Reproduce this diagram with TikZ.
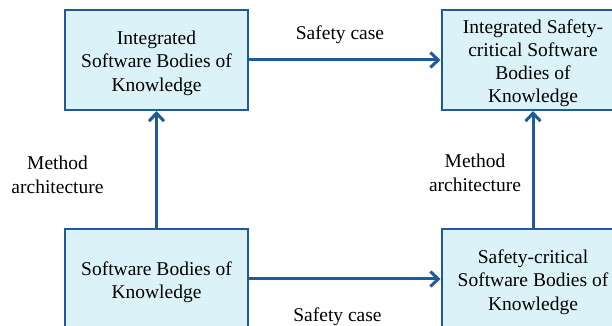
\documentclass[tikz,border=0pt]{standalone}
\usepackage{fontspec}
\setmainfont{Liberation Serif}
\usetikzlibrary{arrows.meta}
\definecolor{bokblue}{HTML}{1F5A9A}
\definecolor{bokfill}{HTML}{DBF3F8}
\newcommand{\bokstrut}{\rule{0pt}{20pt}}

\begin{document}
\begin{tikzpicture}[x=1pt,y=1pt,
  bok/.style={draw=bokblue, line width=2pt, fill=bokfill, minimum width=183pt, minimum height=100pt, inner sep=0pt, align=center, font=\fontsize{19.5}{23.2}\selectfont},
  flow/.style={draw=bokblue, line width=3pt, -{Straight Barb[length=8pt,width=15pt]}},
  lbl/.style={align=center, font=\fontsize{19.5}{23.5}\selectfont}]
\useasboundingbox (0,0) rectangle (612,326);
\clip (0,0) rectangle (612,326);
\node[bok] (isbok) at (156.5,266) {\bokstrut Integrated\\Software Bodies of\\Knowledge};
\node[bok] (iscsbok) at (533,266) {\bokstrut Integrated Safety-\\critical Software\\Bodies of\\Knowledge};
\node[bok] (sbok) at (156.5,47) {\bokstrut Software Bodies of\\Knowledge};
\node[bok] (scsbok) at (533,47) {\bokstrut Safety-critical\\Software Bodies of\\Knowledge};
\draw[flow] (isbok) -- (iscsbok);
\draw[flow] (sbok) -- (scsbok);
\draw[flow] (sbok) -- (isbok);
\draw[flow] (scsbok) -- (iscsbok);
\node[lbl, anchor=base] (sctop) at (340,286) {Safety case};
\node[lbl, anchor=base] (scbot) at (337.5,4) {Safety case};
\node[lbl] (maleft) at (57.5,151) {Method\\architecture};
\node[lbl] (maright) at (475,153) {Method\\architecture};
\end{tikzpicture}
\end{document}
